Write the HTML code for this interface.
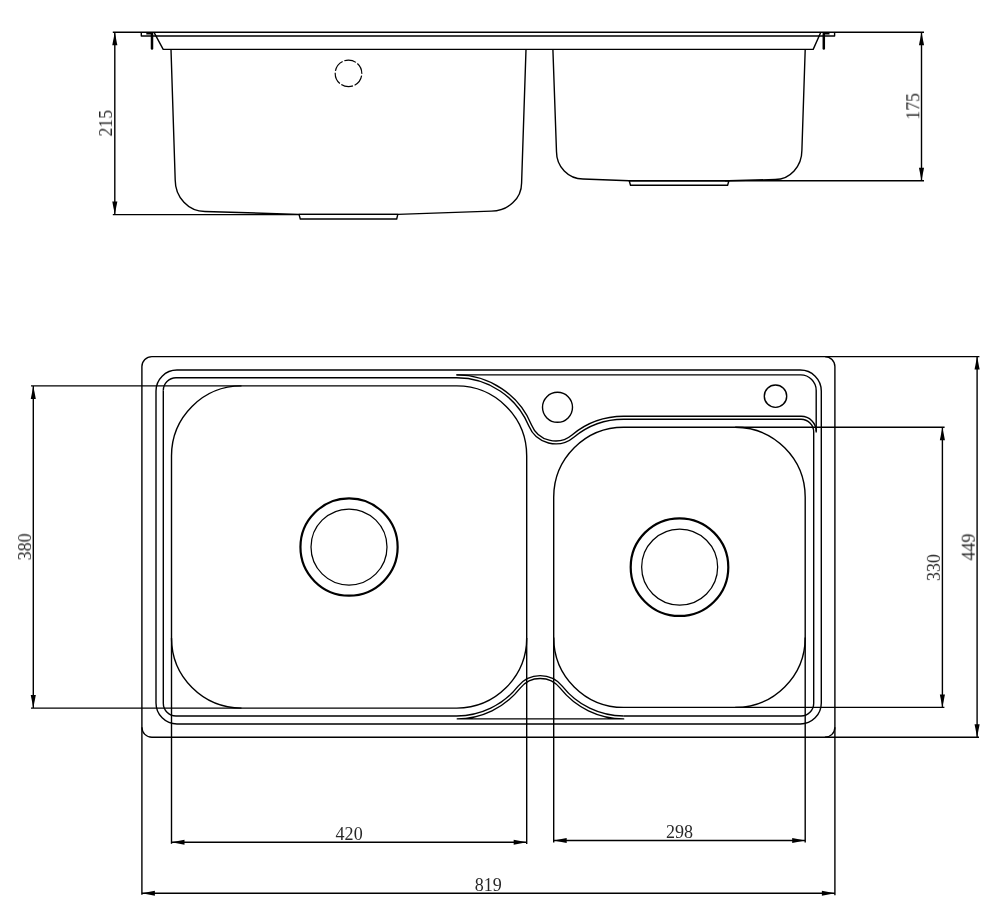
<!DOCTYPE html>
<html><head><meta charset="utf-8"><title>Sink drawing</title>
<style>
html,body{margin:0;padding:0;background:#fff;}
body{width:1008px;height:915px;overflow:hidden;}
svg{display:block;position:absolute;left:0;top:0;}
text{font-family:"Liberation Serif",serif;}
</style></head><body>
<svg width="1008" height="915" viewBox="0 0 1008 915" fill="none" stroke="#000" stroke-linecap="butt" stroke-linejoin="round">
<defs><filter id="g" x="-20%" y="-20%" width="140%" height="140%" color-interpolation-filters="sRGB"><feColorMatrix type="matrix" values="1 0 0 0 0  0 1 0 0 0  0 0 1 0 0  0 0 0 0.85 0"/></filter></defs>
<rect x="0" y="0" width="1008" height="915" fill="#fff" stroke="none"/>
<line x1="112.80" y1="32.30" x2="924.00" y2="32.30" stroke-width="1.4"/>
<path d="M141.3 32.3 V36.0 H834.6 V32.3" stroke-width="1.4" />
<path d="M146.3 33.5 H152" stroke-width="2"/><path d="M152 33.7 V48.6" stroke-width="2.5" stroke-linecap="round"/>
<path d="M829.5 33.5 H823.8" stroke-width="2"/><path d="M823.8 33.7 V48.6" stroke-width="2.5" stroke-linecap="round"/>
<path d="M154 32.3 L163.2 49.4 H813.2 L820.8 32.3" stroke-width="1.4" />
<path d="M171 49.4 L175.2 180 A29.8 31.5 0 0 0 205 211.5 L299 214.4 L397.8 214.4 L491.4 211.1 A30.2 28.2 0 0 0 521.6 182.9 L526 49.4" stroke-width="1.4" />
<path d="M299 214.4 L300.3 219 H396.7 L397.8 214.4 Z" stroke-width="1.4" />
<path d="M552.9 49.4 L556.5 151.7 A26.5 27.3 0 0 0 583 179 L629.2 180.7 L728.9 180.7 L775.2 179.5 A26.7 29.3 0 0 0 801.9 150.2 L805.2 49.4" stroke-width="1.4" />
<path d="M629.2 180.7 L630.5 185.3 H727.6 L728.9 180.7 Z" stroke-width="1.4" />
<circle cx="348.50" cy="73.40" r="13.30" stroke-width="1.2" stroke-dasharray="12.13 1.8" stroke-dashoffset="-2.29"/>
<line x1="112.80" y1="214.60" x2="299.00" y2="214.60" stroke-width="1.4"/>
<line x1="114.80" y1="32.30" x2="114.80" y2="214.60" stroke-width="1.4"/>
<polygon points="114.80,32.30 117.35,45.30 112.25,45.30" fill="#000" stroke="none"/>
<polygon points="114.80,214.60 112.25,201.60 117.35,201.60" fill="#000" stroke="none"/>
<line x1="725.00" y1="180.80" x2="924.00" y2="180.80" stroke-width="1.4"/>
<line x1="921.50" y1="32.30" x2="921.50" y2="180.80" stroke-width="1.4"/>
<polygon points="921.50,32.30 924.05,45.30 918.95,45.30" fill="#000" stroke="none"/>
<polygon points="921.50,180.80 918.95,167.80 924.05,167.80" fill="#000" stroke="none"/>
<rect x="141.90" y="356.60" width="693.00" height="380.70" rx="10" ry="10" stroke-width="1.4"/>
<rect x="156.00" y="370.00" width="665.30" height="354.00" rx="21" ry="21" stroke-width="1.4"/>
<rect x="171.50" y="385.90" width="355.20" height="322.20" rx="70" ry="70" stroke-width="1.4"/>
<rect x="553.70" y="427.30" width="251.50" height="280.10" rx="70" ry="70" stroke-width="1.4"/>
<path d="M456.70 374.90 A81.00 81.00 0 0 1 531.53 424.90 A25.91 25.91 0 0 0 572.01 434.94 A81.00 81.00 0 0 1 623.70 416.30 H801.20 A15 15 0 0 1 816.20 431.30" stroke-width="1.4" />
<path d="M456.20 374.90 H800.70 A15.5 15.5 0 0 1 816.20 390.40 V432.5" stroke-width="1.4" />
<path d="M163.30 390.50 A12.7 12.7 0 0 1 176.00 377.80 H456.70 A78.10 78.10 0 0 1 528.86 426.01 A28.81 28.81 0 0 0 573.86 437.17 A78.10 78.10 0 0 1 623.70 419.20 H801.00 A12.7 12.7 0 0 1 813.70 431.90 V703.30 A12.7 12.7 0 0 1 801.00 716.00 H623.70" stroke-width="1.4" />
<path d="M163.30 390.50 V703.30 A12.7 12.7 0 0 0 176.00 716.00 H456.70 A78.10 78.10 0 0 0 517.94 686.37 A28.39 28.39 0 0 1 562.46 686.37 A78.10 78.10 0 0 0 623.70 716.00" stroke-width="1.4" />
<path d="M456.70 718.90 A81.00 81.00 0 0 0 520.21 688.17 A25.49 25.49 0 0 1 560.19 688.17 A81.00 81.00 0 0 0 623.70 718.90 H456.70" stroke-width="1.4" />
<circle cx="557.50" cy="407.30" r="15.00" stroke-width="1.4" />
<circle cx="775.50" cy="396.20" r="11.20" stroke-width="1.4" />
<circle cx="349.05" cy="547.05" r="48.60" stroke-width="2.2" />
<circle cx="349.00" cy="547.00" r="38.00" stroke-width="1.25" />
<circle cx="679.50" cy="567.15" r="48.80" stroke-width="2.2" />
<circle cx="679.65" cy="567.10" r="38.00" stroke-width="1.25" />
<line x1="31.00" y1="385.90" x2="241.50" y2="385.90" stroke-width="1.4"/>
<line x1="31.00" y1="708.10" x2="241.50" y2="708.10" stroke-width="1.4"/>
<line x1="33.30" y1="385.90" x2="33.30" y2="708.10" stroke-width="1.4"/>
<polygon points="33.30,385.90 35.85,398.90 30.75,398.90" fill="#000" stroke="none"/>
<polygon points="33.30,708.10 30.75,695.10 35.85,695.10" fill="#000" stroke="none"/>
<line x1="735.20" y1="427.30" x2="944.60" y2="427.30" stroke-width="1.4"/>
<line x1="735.20" y1="707.40" x2="944.40" y2="707.40" stroke-width="1.4"/>
<line x1="942.40" y1="427.30" x2="942.40" y2="707.40" stroke-width="1.4"/>
<polygon points="942.40,427.30 944.95,440.30 939.85,440.30" fill="#000" stroke="none"/>
<polygon points="942.40,707.40 939.85,694.40 944.95,694.40" fill="#000" stroke="none"/>
<line x1="824.90" y1="356.60" x2="979.40" y2="356.60" stroke-width="1.4"/>
<line x1="824.90" y1="737.30" x2="979.00" y2="737.30" stroke-width="1.4"/>
<line x1="977.10" y1="356.60" x2="977.10" y2="737.30" stroke-width="1.4"/>
<polygon points="977.10,356.60 979.65,369.60 974.55,369.60" fill="#000" stroke="none"/>
<polygon points="977.10,737.30 974.55,724.30 979.65,724.30" fill="#000" stroke="none"/>
<line x1="141.90" y1="727.30" x2="141.90" y2="894.80" stroke-width="1.4"/>
<line x1="834.90" y1="727.30" x2="834.90" y2="895.20" stroke-width="1.4"/>
<line x1="171.50" y1="638.10" x2="171.50" y2="843.80" stroke-width="1.4"/>
<line x1="526.70" y1="638.10" x2="526.70" y2="844.10" stroke-width="1.4"/>
<line x1="553.70" y1="637.40" x2="553.70" y2="842.50" stroke-width="1.4"/>
<line x1="805.20" y1="637.40" x2="805.20" y2="842.60" stroke-width="1.4"/>
<line x1="171.50" y1="842.20" x2="526.70" y2="842.20" stroke-width="1.4"/>
<polygon points="171.50,842.20 184.50,839.65 184.50,844.75" fill="#000" stroke="none"/>
<polygon points="526.70,842.20 513.70,844.75 513.70,839.65" fill="#000" stroke="none"/>
<line x1="553.70" y1="840.50" x2="805.20" y2="840.50" stroke-width="1.4"/>
<polygon points="553.70,840.50 566.70,837.95 566.70,843.05" fill="#000" stroke="none"/>
<polygon points="805.20,840.50 792.20,843.05 792.20,837.95" fill="#000" stroke="none"/>
<line x1="141.90" y1="893.20" x2="834.90" y2="893.20" stroke-width="1.4"/>
<polygon points="141.90,893.20 154.90,890.65 154.90,895.75" fill="#000" stroke="none"/>
<polygon points="834.90,893.20 821.90,895.75 821.90,890.65" fill="#000" stroke="none"/>
<text transform="translate(335.60,840.00) scale(0.95,1)" font-size="19" fill="#000" stroke="none" filter="url(#g)">420</text>
<text transform="translate(666.00,838.20) scale(0.95,1)" font-size="19" fill="#000" stroke="none" filter="url(#g)">298</text>
<text transform="translate(474.70,891.00) scale(0.95,1)" font-size="19" fill="#000" stroke="none" filter="url(#g)">819</text>
<text transform="translate(112.00,136.50) rotate(-90) scale(0.93,1)" font-size="19" fill="#000" stroke="none" filter="url(#g)">215</text>
<text transform="translate(919.30,119.70) rotate(-90) scale(0.94,1)" font-size="19" fill="#000" stroke="none" filter="url(#g)">175</text>
<text transform="translate(31.00,560.40) rotate(-90) scale(0.95,1)" font-size="19" fill="#000" stroke="none" filter="url(#g)">380</text>
<text transform="translate(939.90,581.10) rotate(-90) scale(0.95,1)" font-size="19" fill="#000" stroke="none" filter="url(#g)">330</text>
<text transform="translate(974.70,560.60) rotate(-90) scale(0.95,1)" font-size="19" fill="#000" stroke="none" filter="url(#g)">449</text>
</svg>
</body></html>
